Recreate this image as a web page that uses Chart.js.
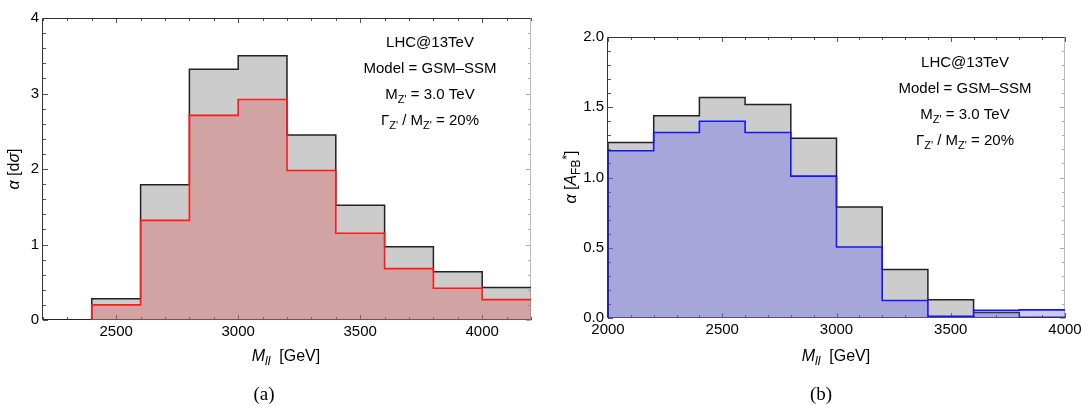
<!DOCTYPE html>
<html>
<head>
<meta charset="utf-8">
<script src="https://cdn.jsdelivr.net/npm/chart.js@4.4.1/dist/chart.umd.min.js"></script>
<style>
  body { margin: 0; background: #fff; width: 1082px; height: 406px; position: relative; overflow: hidden; }
  .box { position: absolute; top: 0; height: 406px; }
  #boxA { left: 0; width: 541px; }
  #boxB { left: 541px; width: 560px; }
  .cap { position: absolute; top: 383px; font-family: "Liberation Serif", "DejaVu Serif", serif; font-size: 19px; color: #000; transform: translateX(-50%); }
</style>
</head>
<body>
<div class="box" id="boxA"><canvas id="chartA"></canvas></div>
<div class="box" id="boxB"><canvas id="chartB"></canvas></div>
<div class="cap" style="left:264px">(a)</div>
<div class="cap" style="left:821px">(b)</div>
<script>
// bin edges and values
const edgesA = [2200, 2400, 2600, 2800, 3000, 3200, 3400, 3600, 3800, 4000, 4200];
const totalA = [0, 0.28, 1.79, 3.32, 3.50, 2.45, 1.52, 0.97, 0.64, 0.43];
const partA  = [null, 0.20, 1.32, 2.71, 2.92, 1.98, 1.15, 0.68, 0.42, 0.27];
const xTicksA = [2500, 3000, 3500, 4000];
const yTicksA = [0, 1, 2, 3, 4];

const edgesB = [2000, 2200, 2400, 2600, 2800, 3000, 3200, 3400, 3600, 3800, 4000];
const totalB = [1.25, 1.44, 1.57, 1.52, 1.28, 0.79, 0.345, 0.13, 0.04, 0.005];
const partB  = [1.19, 1.32, 1.40, 1.32, 1.01, 0.505, 0.125, 0.012, 0.055, 0.058];
const xTicksB = [2000, 2500, 3000, 3500, 4000];
const yTicksB = [0, 0.5, 1.0, 1.5, 2.0];

const infoLines = [
  [['LHC@13TeV', '']],
  [['Model = GSM\u2013SSM', '']],
  [['M', ''], ["Z'", 'sub'], [' = 3.0 TeV', '']],
  [['\u0393', ''], ["Z'", 'sub'], [' / M', ''], ["Z'", 'sub'], [' = 20%', '']],
];

const FONT = '"Liberation Sans", Arial, sans-serif';

function steps(edges, vals) {
  const pts = [];
  let started = false;
  vals.forEach((v, i) => {
    if (v === null) return;
    if (!started) { pts.push({ x: edges[i], y: 0 }); started = true; }
    pts.push({ x: edges[i], y: v });
  });
  pts.push({ x: edges[edges.length - 1], y: vals[vals.length - 1] });
  return pts;
}

function fontOf(k, base) {
  const small = k === 'sub' || k === 'isub' || k === 'sup';
  const size = small ? Math.round(base * 0.72) : base;
  const ital = k === 'i' || k === 'isub';
  return (ital ? 'italic ' : '') + size + 'px ' + FONT;
}

function drawRuns(ctx, runs, cx, cy, base) {
  let w = 0;
  runs.forEach(([t, k]) => { ctx.font = fontOf(k, base); w += ctx.measureText(t).width; });
  let x = cx - w / 2;
  ctx.textBaseline = 'middle';
  ctx.textAlign = 'left';
  ctx.fillStyle = '#000';
  runs.forEach(([t, k]) => {
    ctx.font = fontOf(k, base);
    let dy = 0;
    if (k === 'sub' || k === 'isub') dy = base * 0.3;
    if (k === 'sup') dy = -base * 0.25;
    ctx.fillText(t, x, cy + dy);
    x += ctx.measureText(t).width;
  });
}

// frame with inward ticks, drawn under the histograms
const frameTicks = {
  id: 'frameTicks',
  beforeDatasetsDraw(chart, args, o) {
    const { ctx, chartArea: a, scales: { x, y } } = chart;
    ctx.save();
    ctx.lineWidth = 1;
    const seg = (x1, y1, x2, y2, c) => {
      ctx.strokeStyle = c;
      ctx.beginPath(); ctx.moveTo(x1, y1); ctx.lineTo(x2, y2); ctx.stroke();
    };
    const isMajor = (v, list) => list.some(t => Math.abs(t - v) < 1e-6);
    const nx = Math.round((x.max - x.min) / o.xMinor);
    for (let i = 0; i <= nx; i++) {
      const v = x.min + i * o.xMinor;
      const px = Math.round(x.getPixelForValue(v)) + 0.5;
      const len = isMajor(v, o.xTicks) ? 5 : 3;
      seg(px, a.bottom, px, a.bottom - len, '#555');
      seg(px, a.top, px, a.top + len, '#555');
    }
    const ny = Math.round((y.max - y.min) / o.yMinor);
    for (let i = 0; i <= ny; i++) {
      const v = y.min + i * o.yMinor;
      const py = Math.round(y.getPixelForValue(v)) + 0.5;
      const len = isMajor(v, o.yTicks) ? 5 : 3;
      seg(a.left, py, a.left + len, py, '#555');
      seg(a.right, py, a.right - len, py, '#aaa');
    }
    const L = Math.round(a.left) - 0.5, R = Math.round(a.right) - 0.5;
    const T = Math.round(a.top) + 0.5, B = Math.round(a.bottom) - 0.5;
    seg(R, T, R, B, '#bbb');
    seg(L, T, R, T, '#333');
    seg(L, B, R, B, '#333');
    seg(L, T, L, B, '#333');
    ctx.restore();
  },
  afterDraw(chart, args, o) {
    const ctx = chart.ctx;
    ctx.save();
    infoLines.forEach((runs, i) => drawRuns(ctx, runs, o.infoX, o.infoY + i * 26, 15));
    drawRuns(ctx, o.xTitle, o.xTitleX, 357, 16);
    ctx.translate(o.yTitleX, o.yTitleY);
    ctx.rotate(-Math.PI / 2);
    drawRuns(ctx, o.yTitle, 0, 0, 16);
    ctx.restore();
  }
};

function makeChart(id, cfg) {
  return new Chart(document.getElementById(id), {
    type: 'line',
    data: {
      datasets: [
        { data: steps(cfg.edges, cfg.part), stepped: true, borderColor: cfg.lineColor, borderWidth: 1.6,
          backgroundColor: cfg.fillColor, fill: 'origin', pointRadius: 0 },
        { data: steps(cfg.edges, cfg.total), stepped: true, borderColor: '#222', borderWidth: 1.5,
          backgroundColor: 'rgba(128,128,128,0.4)', fill: 'origin', pointRadius: 0 },
      ],
    },
    options: {
      responsive: true, maintainAspectRatio: false, animation: false,
      layout: { padding: { top: cfg.top, right: cfg.right, left: 0, bottom: 0 } },
      plugins: {
        legend: { display: false }, tooltip: { enabled: false },
        frameTicks: {
          xTicks: cfg.xTicks, yTicks: cfg.yTicks, xMinor: 100, yMinor: cfg.yMinor,
          infoX: cfg.infoX, infoY: cfg.infoY,
          xTitle: [['M', 'i'], ['ll', 'isub'], ['  [GeV]', '']], xTitleX: cfg.xTitleX,
          yTitle: cfg.yTitle, yTitleX: cfg.yTitleX, yTitleY: cfg.yTitleY,
        },
      },
      scales: {
        x: {
          type: 'linear', min: cfg.edges[0], max: cfg.xMax,
          afterBuildTicks: s => { s.ticks = cfg.xTicks.map(v => ({ value: v })); },
          afterFit: s => { s.height = cfg.xHeight; },
          ticks: { color: '#000', font: { family: FONT, size: 15 }, padding: 3, maxRotation: 0, autoSkip: false,
                   callback: v => String(v) },
          grid: { display: false, drawTicks: false },
          border: { display: false },
        },
        y: {
          min: 0, max: cfg.yMax,
          afterBuildTicks: s => { s.ticks = cfg.yTicks.map(v => ({ value: v })); },
          afterFit: s => { s.width = cfg.yWidth; },
          ticks: { color: '#000', font: { family: FONT, size: 15 }, padding: 4, callback: cfg.yFmt },
          grid: { display: false, drawTicks: false },
          border: { display: false },
        },
      },
    },
    plugins: [frameTicks],
  });
}

makeChart('chartA', {
  edges: edgesA, total: totalA, part: partA, xMax: 4200, yMax: 4,
  xTicks: xTicksA, yTicks: yTicksA, yMinor: 0.2, yFmt: v => String(v),
  lineColor: '#ff1a1a', fillColor: 'rgba(225,70,70,0.3)',
  top: 18, right: 10, xHeight: 86, yWidth: 43,
  infoX: 430, infoY: 43, xTitleX: 286, yTitleX: 15, yTitleY: 169,
  yTitle: [['\u03b1', 'i'], [' [d', ''], ['\u03c3', 'i'], [']', '']],
});

makeChart('chartB', {
  edges: edgesB, total: totalB, part: partB, xMax: 4000, yMax: 2,
  xTicks: xTicksB, yTicks: yTicksB, yMinor: 0.1, yFmt: v => v.toFixed(1),
  lineColor: '#1414ff', fillColor: 'rgba(80,80,255,0.3)',
  top: 37, right: 36, xHeight: 88, yWidth: 67,
  infoX: 424, infoY: 63, xTitleX: 295, yTitleX: 31, yTitleY: 177,
  yTitle: [['\u03b1', 'i'], [' [', ''], ['A', 'i'], ['FB', 'sub'], ['*', 'sup'], [']', '']],
});
</script>
</body>
</html>
